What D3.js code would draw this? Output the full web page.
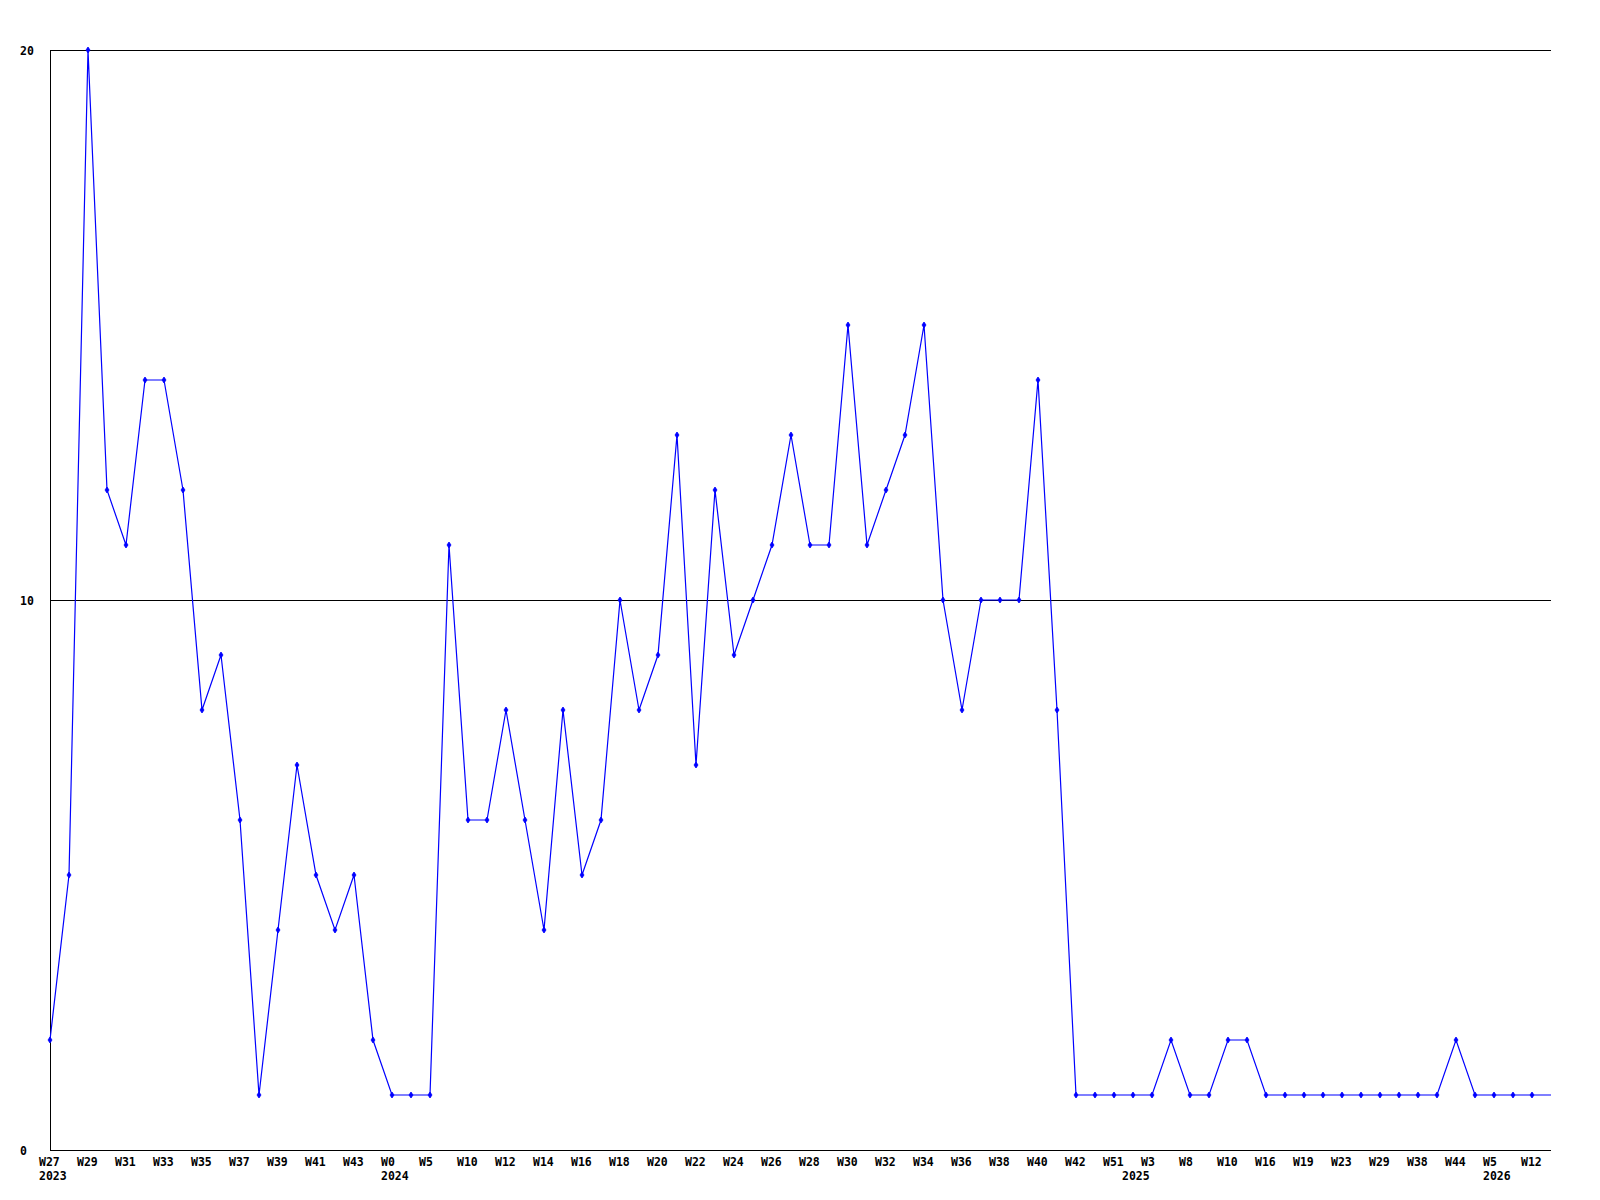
<!DOCTYPE html>
<html>
<head>
<meta charset="utf-8">
<script src="https://cdn.jsdelivr.net/npm/d3@7"></script>
<style>
  html, body { margin: 0; padding: 0; background: #fff; }
  text { font-family: "DejaVu Sans Mono", "Liberation Mono", monospace; font-weight: bold; font-size: 11.5px; fill: #000; }
</style>
</head>
<body>
<svg id="chart" width="1600" height="1200"></svg>
<script>
// Weekly counts (one point per reported week)
const values = [
  2,5,20,12,11,14,14,12,8,9,
  6,1,4,7,5,4,5,2,1,1,
  1,11,6,6,8,6,4,8,5,6,
  10,8,9,13,7,12,9,10,11,13,
  11,11,15,11,12,13,15,10,8,10,
  10,10,14,8,1,1,1,1,1,2,
  1,1,2,2,1,1,1,1,1,1,
  1,1,1,1,2,1,1,1,1
];
// line continues to the right edge (current, unmarked week)
const currentValue = 1;

// tick labels shown on every second week
const tickLabels = [
  "W27","W29","W31","W33","W35","W37","W39","W41","W43","W0",
  "W5","W10","W12","W14","W16","W18","W20","W22","W24","W26",
  "W28","W30","W32","W34","W36","W38","W40","W42","W51","W3",
  "W8","W10","W16","W19","W23","W29","W38","W44","W5","W12"
];
const yearIndex = [0, 18, 57, 76];
const yearNames = ["2023", "2024", "2025", "2026"];
const yTicks = [0, 10, 20];

(function () {
const svg = d3.select("#chart");
svg.append("rect").attr("width", 1600).attr("height", 1200).attr("fill", "#fff");

const mLeft = 50, mRight = 1551, mTop = 50, mBottom = 1150;
const lineData = values.concat([currentValue]);
const x = d3.scaleLinear().domain([0, lineData.length - 1]).range([mLeft, mRight]);
const y = d3.scaleLinear().domain([0, 20]).range([mBottom, mTop]);

// gridlines
svg.append("g").selectAll("line").data(yTicks.filter(d => d > 0)).join("line")
  .attr("x1", mLeft).attr("x2", mRight)
  .attr("y1", d => Math.round(y(d)) + 0.5).attr("y2", d => Math.round(y(d)) + 0.5)
  .attr("stroke", "#000").attr("stroke-width", 1);

// axes lines
svg.append("line").attr("x1", mLeft + 0.5).attr("x2", mLeft + 0.5).attr("y1", mTop).attr("y2", mBottom)
  .attr("stroke", "#000");
svg.append("line").attr("x1", mLeft).attr("x2", mRight).attr("y1", mBottom + 0.5).attr("y2", mBottom + 0.5)
  .attr("stroke", "#000");

// y labels
svg.append("g").selectAll("text").data(yTicks).join("text")
  .attr("x", 20).attr("y", d => y(d) + 4.5)
  .text(d => d);

// x tick labels
svg.append("g").selectAll("text").data(tickLabels).join("text")
  .attr("x", (d, i) => x(i * 2) - 11).attr("y", 1166)
  .text(d => d);

// year labels
svg.append("g").selectAll("text").data(yearNames).join("text")
  .attr("x", (d, i) => x(yearIndex[i]) - 11).attr("y", 1180)
  .text(d => d);

// line
const line = d3.line().x((d, i) => x(i)).y(d => y(d));
svg.append("path").datum(lineData)
  .attr("d", line).attr("fill", "none").attr("stroke", "#0000ff").attr("stroke-width", 1.2);

// markers
svg.append("g").selectAll("path").data(values).join("path")
  .attr("transform", (d, i) => `translate(${x(i)},${y(d)})`)
  .attr("d", "M0,-3L2,0L0,3L-2,0Z")
  .attr("fill", "#0000ff").attr("stroke", "#0000ff").attr("stroke-width", 0.8);
})();
</script>
</body>
</html>
